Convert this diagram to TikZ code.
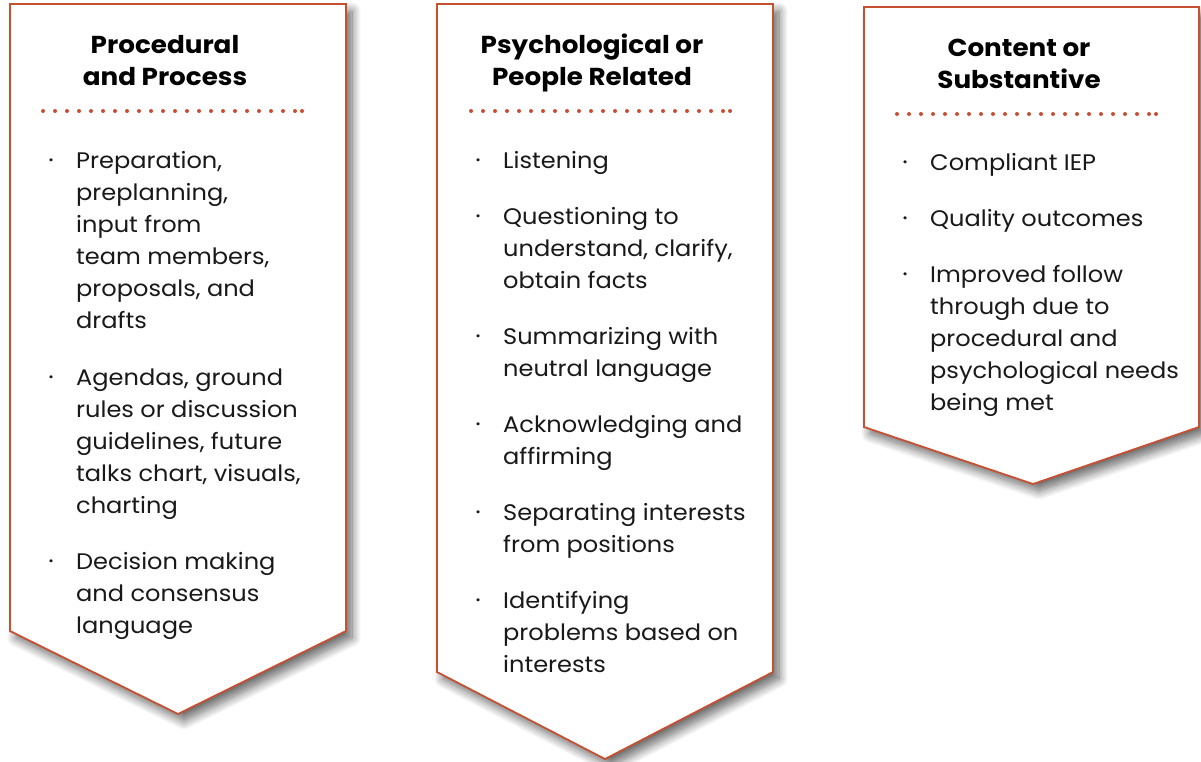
\documentclass[tikz,border=0pt]{standalone}
\usepackage{fontspec}
\setmainfont{Poppins}[FakeStretch=1.07]
\usetikzlibrary{shadows.blur}
\definecolor{cEdge}{RGB}{198,80,50}
\definecolor{cText}{RGB}{25,25,25}
\tikzset{
  chevron/.style={
    draw=cEdge, line width=1.8pt, fill=white, line join=miter,
    blur shadow={shadow xshift=6pt, shadow yshift=-7pt,
                 shadow opacity=60, shadow blur steps=12, shadow blur radius=9pt},
  },
  title/.style={
    anchor=base, align=center, inner sep=0pt, text=black,
    font=\bfseries\fontsize{24.5}{32}\selectfont,
  },
  item/.style={
    anchor=base west, align=left, inner sep=0pt, text=cText,
    font=\fontsize{22.5}{32}\selectfont,
  },
  bullet/.style={
    anchor=base, inner sep=0pt, text=cText,
    font=\fontsize{24}{32}\selectfont,
  },
  sep/.style={
    draw=cEdge, line width=4pt, line cap=round,
    dash pattern=on 0pt off 12pt,
  },
}

\begin{document}
\begin{tikzpicture}[x=1pt, y=-1pt]
\useasboundingbox (0,0) rectangle (1201,761);

% the three down-pointing panels
\draw[chevron] (10,4) -- (346,4) -- (346,631) -- (178,714) -- (10,631) -- cycle;
\draw[chevron] (437,4) -- (773,4) -- (773,672) -- (605,759) -- (437,672) -- cycle;
\draw[chevron] (864,7) -- (1199,7) -- (1199,427) -- (1033,484) -- (864,427) -- cycle;

% procedural (nodes sit on the baseline of their last line)
\node[title] (proc) at (165,85) {Procedural\\and Process};
\coordinate (procL) at (43,111);
\coordinate (procR) at (296,111);
\draw[sep] (procL) -- (procR);
\fill[cEdge] (302,111) circle (2pt);

\node[bullet] (procB1) at (51,168) {·};
\node[item] (proc1) at (76,328)
  {Preparation,\\preplanning,\\input from\\team members,\\proposals, and\\drafts};
\node[bullet] (procB2) at (51,385) {·};
\node[item] (proc2) at (76,513)
  {Agendas, ground\\rules or discussion\\guidelines, future\\talks chart, visuals,\\charting};
\node[bullet] (procB3) at (51,569) {·};
\node[item] (proc3) at (76,633)
  {Decision making\\and consensus\\language};

% psychological
\node[title] (psy) at (592,85) {Psychological or\\People Related};
\coordinate (psyL) at (471,111);
\coordinate (psyR) at (724,111);
\draw[sep] (psyL) -- (psyR);
\fill[cEdge] (730,111) circle (2pt);

\node[bullet] (psyB1) at (478,168) {·};
\node[item] (psy1) at (503,168) {Listening};
\node[bullet] (psyB2) at (478,224) {·};
\node[item] (psy2) at (503,288) {Questioning to\\understand, clarify,\\obtain facts};
\node[bullet] (psyB3) at (478,344) {·};
\node[item] (psy3) at (503,376) {Summarizing with\\neutral language};
\node[bullet] (psyB4) at (478,432) {·};
\node[item] (psy4) at (503,464) {Acknowledging and\\affirming};
\node[bullet] (psyB5) at (478,520) {·};
\node[item] (psy5) at (503,552) {Separating interests\\from positions};
\node[bullet] (psyB6) at (478,608) {·};
\node[item] (psy6) at (503,672) {Identifying\\problems based on\\interests};

% content
\node[title] (cont) at (1019,88) {Content or\\Substantive};
\coordinate (contL) at (897,114);
\coordinate (contR) at (1150,114);
\draw[sep] (contL) -- (contR);
\fill[cEdge] (1156,114) circle (2pt);

\node[bullet] (contB1) at (905,170) {·};
\node[item] (cont1) at (930,170) {Compliant IEP};
\node[bullet] (contB2) at (905,226) {·};
\node[item] (cont2) at (930,226) {Quality outcomes};
\node[bullet] (contB3) at (905,282) {·};
\node[item] (cont3) at (930,410)
  {Improved follow\\through due to\\procedural and\\psychological needs\\being met};

\end{tikzpicture}
\end{document}
